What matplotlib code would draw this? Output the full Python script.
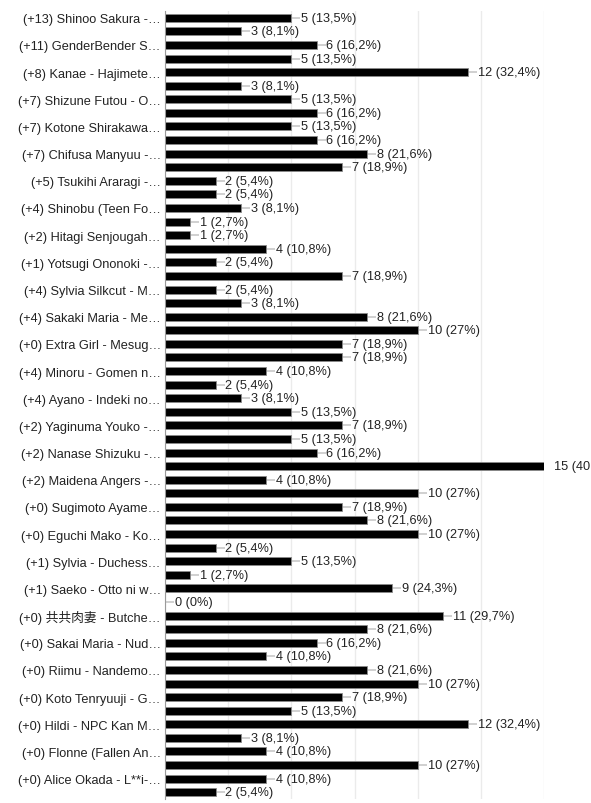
import matplotlib
matplotlib.use('Agg')
import matplotlib.pyplot as plt

plt.rcParams['font.family'] = ['Liberation Sans', 'Noto Sans CJK SC']

# 37 respostas no total
TOTAL = 37

names = [
    "(+13) Shinoo Sakura -…",
    "(+11) GenderBender S…",
    "(+8) Kanae - Hajimete…",
    "(+7) Shizune Futou - O…",
    "(+7) Kotone Shirakawa…",
    "(+7) Chifusa Manyuu -…",
    "(+5) Tsukihi Araragi -…",
    "(+4) Shinobu (Teen Fo…",
    "(+2) Hitagi Senjougah…",
    "(+1) Yotsugi Ononoki -…",
    "(+4) Sylvia Silkcut - M…",
    "(+4) Sakaki Maria - Me…",
    "(+0) Extra Girl - Mesug…",
    "(+4) Minoru - Gomen n…",
    "(+4) Ayano - Indeki no…",
    "(+2) Yaginuma Youko -…",
    "(+2) Nanase Shizuku -…",
    "(+2) Maidena Angers -…",
    "(+0) Sugimoto Ayame…",
    "(+0) Eguchi Mako - Ko…",
    "(+1) Sylvia - Duchess…",
    "(+1) Saeko - Otto ni w…",
    "(+0) 共共肉妻 - Butche…",
    "(+0) Sakai Maria - Nud…",
    "(+0) Riimu - Nandemo…",
    "(+0) Koto Tenryuuji - G…",
    "(+0) Hildi - NPC Kan M…",
    "(+0) Flonne (Fallen An…",
    "(+0) Alice Okada - L**i-…",
]

# two bars per entry (every bar in order, top to bottom)
counts = [
    5, 3, 6, 5, 12, 3, 5, 6, 5, 6,
    8, 7, 2, 2, 3, 1, 1, 4, 2, 7,
    2, 3, 8, 10, 7, 7, 4, 2, 3, 5,
    7, 5, 6, 15, 4, 10, 7, 8, 10, 2,
    5, 1, 9, 0, 11, 8, 6, 4, 8, 10,
    7, 5, 12, 3, 4, 10, 4, 2,
]


def fmt_label(v):
    pct = round(v / TOTAL * 100, 1)
    s = f"{pct:.1f}".rstrip('0').rstrip('.').replace('.', ',')
    return f"{v} ({s}%)"


fig = plt.figure(figsize=(5.91, 8.04), dpi=100)
ax = fig.add_axes([165 / 591, 1 - 800 / 804, (544 - 165) / 591, 788 / 804])

n = len(counts)
ypos = list(range(n))
ax.barh(ypos, counts, height=0.59, color='black', edgecolor='#8a8a8a',
        linewidth=0.6, zorder=3)

ax.set_xlim(0, 15)
ax.set_ylim(n - 0.5, -0.5)

# gridlines
ax.set_xticks([2.5 * i for i in range(7)])
ax.xaxis.grid(True, color='#ebebeb', linewidth=1, zorder=0)
ax.tick_params(axis='x', length=0, labelbottom=False)

ax.set_yticks(ypos[::2])
ax.set_yticklabels(names, fontsize=9.2, color='#222222')
ax.tick_params(axis='y', length=0, pad=3)

for side in ['top', 'right', 'bottom']:
    ax.spines[side].set_visible(False)
ax.spines['left'].set_color('#9a9a9a')
ax.spines['left'].set_zorder(4)

# value labels with little stems
stem = 0.36
for y, v in zip(ypos, counts):
    ax.plot([v, v + stem], [y, y], color='#c8c8c8', linewidth=1.2,
            zorder=2, clip_on=True, solid_capstyle='butt')
    ax.text(v + stem + 0.03, y, fmt_label(v), va='center', ha='left',
            fontsize=9.2, color='#222222', clip_on=False)

plt.savefig('out.png', dpi=100)
